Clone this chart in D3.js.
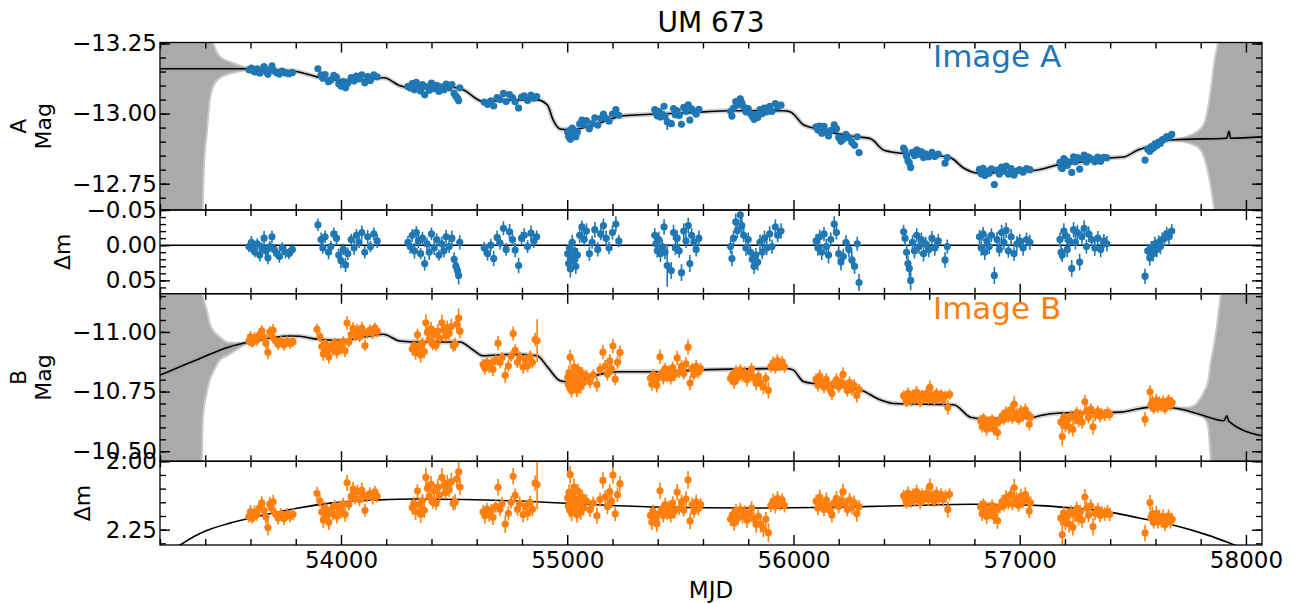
<!DOCTYPE html>
<html>
<head>
<meta charset="utf-8">
<script src="https://cdn.jsdelivr.net/npm/d3@7"></script>
<style>
  body { margin: 0; background: #fff; }
  svg { font-family: "DejaVu Sans", sans-serif; }
</style>
</head>
<body>
<svg id="chart" width="1294" height="604"></svg>
<script>
// ---- image A: epochs, magnitudes, residuals from the model, errors ----
var mjdA = [
  53593,53604,53612,53620,53630,53641,53650,53660,53668,53677,53686,53695,53705,53716,53728,53740,53755,53770,53785,
  53898,53912,53920,53930,53945,53955,53968,53980,53990,54000,54010,54020,54030,54045,54058,54068,54080,54092,54105,54118,54130,54145,54160,
  54296,54306,54315,54325,54333,54342,54352,54360,54370,54380,54390,54400,54412,54423,54433,54445,54455,54465,54478,54490,54500,54508,54515,54520,54525,
  54633,54648,54662,54675,54690,54703,54718,54730,54745,54758,54770,54785,54798,54810,54825,54840,54852,54865,
  55002,55006,55010,55014,55018,55022,55027,55032,55038,55045,55055,55065,55075,55085,55098,55110,55122,55135,55148,55160,55172,55185,55200,55215,55228,
  55387,55392,55398,55405,55412,55420,55428,55432,55442,55460,55470,55478,55486,55495,55505,55515,55525,55535,55542,55550,55560,55570,55582,
  55722,55728,55735,55745,55752,55765,55772,55780,55790,55800,55810,55818,55826,55834,55842,55852,55862,55872,55882,55895,55905,55920,55930,55945,
  56100,56108,56116,56125,56135,56145,56155,56165,56180,56190,56200,56210,56220,56232,56245,56258,56270,56282,56290,
  56487,56493,56500,56506,56512,56518,56526,56535,56545,56555,56565,56575,56585,56598,56612,56625,56640,56670,56680,
  56822,56830,56838,56846,56855,56865,56875,56888,56900,56910,56920,56930,56940,56950,56962,56975,56988,57000,57015,57030,57045,
  57178,57183,57188,57195,57202,57210,57220,57230,57238,57246,57255,57265,57275,57285,57295,57305,57318,57332,57345,57358,57372,57385,
  57554,57566,57575,57582,57590,57598,57606,57614,57622,57630,57640,57650,57660,57672
];
var magA = [
  -13.156,-13.162,-13.152,-13.148,-13.160,-13.144,-13.154,-13.168,-13.150,-13.140,-13.156,-13.170,-13.152,-13.146,-13.141,-13.152,-13.145,-13.142,-13.147,
  -13.160,-13.138,-13.126,-13.139,-13.114,-13.120,-13.136,-13.130,-13.106,-13.098,-13.114,-13.092,-13.108,-13.128,-13.116,-13.134,-13.124,-13.138,-13.110,-13.132,-13.118,-13.138,-13.131,
  -13.097,-13.091,-13.107,-13.085,-13.111,-13.099,-13.081,-13.103,-13.067,-13.095,-13.083,-13.109,-13.089,-13.101,-13.079,-13.095,-13.085,-13.105,-13.091,-13.103,-13.072,-13.062,-13.055,-13.046,-13.092,
  -13.041,-13.033,-13.045,-13.027,-13.057,-13.050,-13.072,-13.043,-13.068,-13.057,-13.042,-13.020,-13.059,-13.063,-13.047,-13.066,-13.055,-13.061,
  -12.933,-12.918,-12.939,-12.908,-12.925,-12.948,-12.923,-12.938,-12.917,-12.934,-12.963,-12.977,-12.961,-12.975,-12.946,-12.964,-12.985,-12.959,-12.983,-12.998,-12.983,-12.973,-12.998,-13.014,-12.994,
  -13.014,-13.002,-12.992,-13.008,-12.988,-12.998,-13.026,-12.990,-12.971,-12.964,-13.018,-12.996,-13.010,-12.993,-12.962,-13.022,-13.008,-13.031,-12.977,-13.017,-13.008,-12.998,-13.015,
  -13.008,-12.991,-13.020,-13.043,-13.031,-13.053,-13.038,-13.024,-13.006,-13.018,-13.000,-12.990,-12.980,-12.996,-12.986,-13.014,-13.000,-13.020,-13.006,-13.026,-13.008,-13.036,-13.024,-13.030,
  -12.953,-12.941,-12.955,-12.930,-12.954,-12.934,-12.920,-12.940,-12.960,-12.946,-12.915,-12.901,-12.908,-12.926,-12.914,-12.898,-12.887,-12.917,-12.861,
  -12.877,-12.868,-12.848,-12.832,-12.825,-12.808,-12.862,-12.850,-12.871,-12.855,-12.864,-12.843,-12.856,-12.846,-12.862,-12.847,-12.855,-12.823,-12.843,
  -12.801,-12.785,-12.805,-12.779,-12.795,-12.787,-12.803,-12.747,-12.798,-12.784,-12.809,-12.795,-12.813,-12.784,-12.804,-12.781,-12.795,-12.800,-12.791,-12.804,-12.800,
  -12.826,-12.808,-12.804,-12.839,-12.833,-12.815,-12.827,-12.790,-12.846,-12.828,-12.843,-12.802,-12.839,-12.852,-12.827,-12.845,-12.838,-12.828,-12.845,-12.830,-12.844,-12.842,
  -12.834,-12.873,-12.866,-12.882,-12.876,-12.892,-12.886,-12.898,-12.894,-12.906,-12.910,-12.918,-12.916,-12.926
];
var resA = [
  0.002,-0.004,0.006,0.010,-0.002,0.014,0.004,-0.010,0.008,0.018,0.002,-0.012,0.006,0.012,0.016,0.004,0.010,0.012,0.006,
  -0.029,-0.008,0.004,-0.012,0.010,0.002,-0.016,-0.010,0.014,0.022,0.006,0.028,0.012,-0.008,0.004,-0.014,-0.004,-0.018,0.010,-0.012,0.002,-0.016,-0.006,
  -0.004,0.002,-0.014,0.008,-0.018,-0.006,0.012,-0.010,0.026,-0.002,0.010,-0.016,0.004,-0.008,0.014,-0.002,0.008,-0.012,0.002,-0.010,0.020,0.030,0.036,0.043,-0.004,
  0.004,0.012,0.000,0.019,-0.011,-0.003,-0.024,0.006,-0.019,-0.008,0.007,0.029,-0.010,-0.014,0.002,-0.017,-0.006,-0.012,
  0.012,0.026,0.004,0.034,0.018,-0.004,0.022,0.008,0.030,0.014,-0.014,-0.026,-0.008,-0.020,0.012,-0.004,-0.022,0.006,-0.016,-0.028,-0.010,0.004,-0.018,-0.030,-0.006,
  -0.014,-0.002,0.008,-0.008,0.012,0.002,-0.026,0.010,0.029,0.036,-0.018,0.004,-0.010,0.008,0.039,-0.020,-0.006,-0.028,0.026,-0.014,-0.004,0.006,-0.010,
  0.002,0.019,-0.010,-0.033,-0.021,-0.043,-0.028,-0.014,0.004,-0.008,0.010,0.020,0.030,0.014,0.024,-0.004,0.010,-0.010,0.004,-0.016,0.002,-0.026,-0.014,-0.020,
  -0.006,0.004,-0.012,0.010,-0.016,0.002,0.014,-0.008,-0.030,-0.018,0.012,0.024,0.016,-0.004,0.006,0.021,0.030,-0.002,0.053,
  -0.019,-0.010,0.010,0.026,0.033,0.050,-0.004,0.008,-0.014,0.002,-0.008,0.012,-0.002,0.006,-0.010,0.004,-0.006,0.021,0.002,
  -0.012,0.004,-0.016,0.010,-0.006,0.002,-0.014,0.043,-0.008,0.006,-0.018,-0.004,-0.021,0.008,-0.012,0.012,-0.002,-0.006,0.004,-0.008,-0.004,
  -0.008,0.010,0.014,-0.020,-0.014,0.006,-0.006,0.033,-0.022,-0.004,-0.018,0.024,-0.012,-0.024,0.002,-0.016,-0.008,0.004,-0.010,0.006,-0.006,-0.002,
  0.044,0.008,0.018,0.004,0.012,-0.002,0.006,-0.004,0.002,-0.008,-0.010,-0.016,-0.012,-0.020
];
var errA = [
  0.008,0.009,0.008,0.007,0.008,0.009,0.008,0.010,0.008,0.009,0.008,0.009,0.008,0.007,0.009,0.008,0.009,0.008,0.008,
  0.009,0.010,0.008,0.009,0.010,0.008,0.009,0.010,0.009,0.011,0.008,0.010,0.009,0.008,0.010,0.009,0.008,0.010,0.009,0.010,0.008,0.009,0.010,
  0.009,0.010,0.009,0.011,0.009,0.010,0.008,0.009,0.010,0.009,0.011,0.009,0.010,0.009,0.008,0.010,0.009,0.010,0.009,0.011,0.010,0.011,0.012,0.013,0.010,
  0.009,0.010,0.009,0.011,0.010,0.009,0.010,0.009,0.011,0.009,0.010,0.011,0.009,0.010,0.009,0.011,0.010,0.009,
  0.010,0.011,0.009,0.012,0.010,0.011,0.010,0.012,0.011,0.010,0.011,0.009,0.010,0.011,0.010,0.009,0.011,0.010,0.009,0.010,0.011,0.009,0.010,0.011,0.009,
  0.010,0.011,0.010,0.011,0.012,0.010,0.011,0.010,0.030,0.012,0.011,0.010,0.011,0.010,0.012,0.011,0.010,0.011,0.012,0.010,0.011,0.010,0.011,
  0.010,0.011,0.010,0.012,0.011,0.012,0.011,0.010,0.011,0.010,0.011,0.012,0.011,0.010,0.012,0.011,0.010,0.011,0.010,0.011,0.010,0.011,0.010,0.011,
  0.010,0.011,0.010,0.011,0.010,0.011,0.012,0.010,0.011,0.010,0.011,0.012,0.011,0.010,0.011,0.012,0.011,0.010,0.012,
  0.010,0.011,0.010,0.011,0.012,0.014,0.010,0.011,0.010,0.011,0.010,0.011,0.010,0.011,0.010,0.011,0.010,0.011,0.010,
  0.010,0.011,0.010,0.011,0.010,0.011,0.010,0.012,0.011,0.010,0.011,0.010,0.011,0.010,0.011,0.010,0.011,0.010,0.011,0.010,0.011,
  0.010,0.011,0.010,0.011,0.010,0.011,0.010,0.012,0.011,0.010,0.011,0.012,0.010,0.011,0.010,0.011,0.010,0.011,0.010,0.011,0.010,0.011,
  0.011,0.010,0.011,0.010,0.011,0.010,0.011,0.010,0.011,0.010,0.011,0.010,0.011,0.010
];

// ---- image B: epochs, magnitudes, difference to the shifted A model, errors ----
var mjdB = [
  53593,53600,53608,53618,53628,53640,53650,53660,53668,53677,53685,53692,53700,53710,53722,53735,53748,53762,53775,53788,
  53894,53907,53915,53922,53930,53938,53946,53955,53964,53972,53982,53992,54000,54010,54018,54027,54035,54045,54053,54062,54072,54082,54092,54100,54106,54115,54128,54140,54150,54160,
  54315,54322,54330,54338,54345,54352,54360,54368,54375,54382,54390,54398,54405,54412,54420,54428,54436,54446,54455,54462,54470,54478,54488,54496,54505,54512,54520,54526,
  54628,54636,54645,54655,54664,54672,54684,54694,54703,54712,54726,54740,54752,54761,54770,54780,54790,54805,54815,54825,54836,54846,54858,54867,
  55002,55005,55008,55011,55013,55016,55019,55022,55026,55030,55034,55038,55043,55048,55054,55060,55066,55072,55085,55100,55115,55131,55145,55158,55168,55178,55188,55196,55202,55212,55222,55233,
  55368,55374,55380,55388,55396,55404,55410,55418,55425,55433,55442,55450,55458,55466,55475,55486,55495,55505,55515,55525,55534,55543,55552,55560,55570,55580,55590,
  55722,55730,55738,55746,55755,55765,55775,55785,55795,55805,55815,55825,55835,55845,55855,55867,55878,55889,55900,55910,55920,55929,55940,55950,55960,
  56100,56108,56116,56125,56135,56145,56155,56162,56170,56180,56190,56200,56210,56219,56228,56238,56248,56258,56268,56280,56290,
  56487,56494,56500,56506,56512,56520,56528,56536,56544,56552,56560,56568,56578,56588,56596,56603,56612,56622,56632,56642,56652,56662,56672,56682,56690,
  56827,56834,56840,56847,56854,56862,56870,56878,56886,56894,56902,56912,56922,56930,56940,56950,56960,56968,56976,56985,56995,57005,57015,57025,57035,57042,57048,
  57182,57188,57195,57202,57210,57218,57226,57235,57244,57252,57260,57268,57276,57288,57296,57304,57314,57324,57334,57345,57355,57363,57375,57388,57398,
  57554,57576,57580,57586,57592,57598,57604,57610,57618,57626,57634,57642,57650,57658,57666,57674
];
var magB = [
  -10.963,-10.979,-10.955,-10.976,-10.965,-10.989,-11.005,-10.977,-10.953,-10.914,-11.000,-10.986,-11.007,-10.963,-10.948,-10.962,-10.946,-10.961,-10.952,-10.959,
  -11.011,-10.980,-10.939,-10.908,-10.952,-10.922,-10.896,-10.941,-10.925,-10.955,-10.915,-10.945,-10.930,-10.960,-10.921,-11.037,-10.958,-10.989,-11.015,-10.982,-11.008,-10.980,-11.016,-10.997,-10.943,-10.995,-11.008,-10.995,-11.017,-11.003,
  -10.928,-10.943,-10.913,-10.988,-10.938,-10.903,-10.953,-10.918,-11.038,-10.998,-10.968,-11.013,-10.948,-10.988,-10.943,-11.003,-10.973,-11.038,-11.008,-10.983,-11.018,-10.993,-11.023,-10.943,-10.948,-11.033,-11.058,-11.003,
  -10.863,-10.848,-10.873,-10.853,-10.868,-10.843,-10.883,-10.953,-10.873,-10.893,-10.818,-10.858,-10.898,-10.993,-10.923,-10.873,-10.893,-10.853,-10.883,-10.858,-10.898,-10.873,-10.968,-10.963,
  -10.810,-10.780,-10.830,-10.765,-10.894,-10.800,-10.755,-10.821,-10.787,-10.853,-10.774,-10.810,-10.756,-10.842,-10.798,-10.770,-10.827,-10.788,-10.817,-10.791,-10.820,-10.780,-10.843,-10.915,-10.857,-10.823,-10.879,-10.845,-10.941,-10.802,-10.873,-10.914,
  -10.806,-10.781,-10.821,-10.796,-10.776,-10.811,-10.896,-10.826,-10.806,-10.846,-10.816,-10.836,-10.806,-10.851,-10.821,-10.891,-10.831,-10.856,-10.826,-10.866,-10.936,-10.786,-10.846,-10.821,-10.856,-10.831,-10.846,
  -10.805,-10.820,-10.790,-10.835,-10.810,-10.840,-10.815,-10.830,-10.800,-10.825,-10.845,-10.805,-10.785,-10.815,-10.785,-10.770,-10.805,-10.755,-10.855,-10.870,-10.850,-10.880,-10.860,-10.875,-10.855,
  -10.802,-10.776,-10.815,-10.789,-10.768,-10.801,-10.779,-10.758,-10.742,-10.786,-10.800,-10.769,-10.788,-10.822,-10.776,-10.755,-10.788,-10.757,-10.776,-10.734,-10.758,
  -10.733,-10.723,-10.706,-10.743,-10.728,-10.713,-10.738,-10.718,-10.748,-10.728,-10.708,-10.738,-10.723,-10.743,-10.718,-10.768,-10.733,-10.713,-10.743,-10.723,-10.738,-10.718,-10.733,-10.683,-10.738,
  -10.628,-10.603,-10.638,-10.613,-10.593,-10.623,-10.608,-10.633,-10.593,-10.618,-10.578,-10.628,-10.648,-10.633,-10.663,-10.643,-10.673,-10.638,-10.698,-10.658,-10.633,-10.668,-10.648,-10.673,-10.653,-10.613,-10.643,
  -10.622,-10.562,-10.642,-10.607,-10.632,-10.602,-10.647,-10.592,-10.637,-10.662,-10.627,-10.652,-10.622,-10.707,-10.667,-10.642,-10.677,-10.602,-10.652,-10.667,-10.647,-10.657,-10.652,-10.662,-10.654,
  -10.634,-10.749,-10.694,-10.709,-10.679,-10.699,-10.714,-10.684,-10.704,-10.689,-10.709,-10.679,-10.699,-10.714,-10.694,-10.704
];
var dmB = [
  2.202,2.185,2.208,2.186,2.195,2.170,2.152,2.180,2.204,2.242,2.156,2.170,2.148,2.192,2.207,2.193,2.209,2.193,2.201,2.194,
  2.117,2.146,2.186,2.215,2.170,2.199,2.223,2.178,2.192,2.162,2.201,2.171,2.185,2.155,2.194,2.079,2.158,2.128,2.102,2.137,2.111,2.141,2.105,2.125,2.179,2.129,2.118,2.133,2.112,2.127,
  2.169,2.154,2.184,2.109,2.159,2.194,2.144,2.179,2.059,2.099,2.129,2.084,2.149,2.109,2.154,2.094,2.124,2.059,2.089,2.114,2.079,2.104,2.074,2.154,2.149,2.064,2.039,2.094,
  2.185,2.200,2.175,2.195,2.180,2.205,2.165,2.095,2.175,2.155,2.230,2.190,2.150,2.055,2.125,2.175,2.155,2.195,2.165,2.190,2.150,2.175,2.080,2.085,
  2.134,2.164,2.114,2.179,2.049,2.144,2.189,2.124,2.159,2.094,2.174,2.139,2.195,2.110,2.155,2.185,2.130,2.171,2.146,2.177,2.153,2.199,2.140,2.070,2.131,2.166,2.111,2.146,2.051,2.192,2.122,2.082,
  2.198,2.223,2.183,2.208,2.228,2.193,2.108,2.178,2.198,2.158,2.188,2.168,2.198,2.153,2.183,2.113,2.173,2.148,2.178,2.138,2.068,2.218,2.158,2.183,2.148,2.173,2.158,
  2.211,2.196,2.226,2.181,2.206,2.176,2.201,2.186,2.216,2.191,2.171,2.211,2.231,2.201,2.231,2.246,2.211,2.261,2.161,2.146,2.166,2.136,2.156,2.141,2.161,
  2.146,2.171,2.131,2.156,2.176,2.141,2.161,2.181,2.196,2.151,2.136,2.166,2.146,2.111,2.156,2.176,2.141,2.171,2.151,2.191,2.166,
  2.126,2.136,2.153,2.116,2.131,2.146,2.121,2.141,2.111,2.131,2.151,2.121,2.136,2.116,2.141,2.091,2.126,2.146,2.116,2.136,2.121,2.141,2.126,2.176,2.121,
  2.167,2.192,2.157,2.182,2.202,2.172,2.187,2.162,2.202,2.177,2.217,2.167,2.147,2.162,2.132,2.152,2.122,2.157,2.097,2.137,2.162,2.127,2.147,2.122,2.142,2.182,2.152,
  2.208,2.268,2.189,2.224,2.199,2.230,2.185,2.241,2.197,2.172,2.208,2.184,2.215,2.131,2.172,2.197,2.163,2.239,2.190,2.176,2.197,2.187,2.193,2.184,2.194,
  2.262,2.151,2.206,2.192,2.223,2.204,2.190,2.222,2.203,2.219,2.201,2.232,2.213,2.200,2.221,2.212
];
var errB = [
  0.022,0.025,0.020,0.024,0.022,0.026,0.024,0.021,0.023,0.028,0.025,0.022,0.026,0.021,0.024,0.022,0.025,0.021,0.023,0.022,
  0.024,0.022,0.026,0.030,0.023,0.025,0.028,0.022,0.024,0.021,0.026,0.023,0.025,0.022,0.027,0.030,0.022,0.024,0.026,0.021,0.025,0.023,0.027,0.022,0.024,0.021,0.023,0.025,0.022,0.024,
  0.026,0.024,0.030,0.025,0.027,0.032,0.024,0.028,0.035,0.026,0.024,0.030,0.025,0.028,0.024,0.030,0.026,0.034,0.028,0.025,0.030,0.027,0.032,0.026,0.028,0.036,0.040,0.030,
  0.024,0.027,0.023,0.026,0.024,0.028,0.023,0.030,0.025,0.024,0.032,0.026,0.023,0.030,0.025,0.024,0.026,0.028,0.023,0.027,0.024,0.026,0.028,0.090,
  0.028,0.025,0.030,0.026,0.032,0.027,0.030,0.025,0.028,0.032,0.026,0.028,0.030,0.027,0.025,0.029,0.026,0.028,0.025,0.027,0.024,0.030,0.026,0.030,0.025,0.027,0.028,0.025,0.030,0.026,0.027,0.028,
  0.026,0.028,0.024,0.027,0.030,0.025,0.030,0.024,0.026,0.025,0.027,0.024,0.026,0.025,0.027,0.030,0.024,0.026,0.025,0.028,0.032,0.030,0.025,0.024,0.026,0.025,0.024,
  0.026,0.024,0.028,0.025,0.027,0.024,0.026,0.025,0.028,0.024,0.026,0.027,0.030,0.025,0.030,0.032,0.026,0.034,0.025,0.027,0.024,0.026,0.025,0.024,0.026,
  0.024,0.026,0.028,0.024,0.025,0.027,0.024,0.026,0.028,0.025,0.027,0.024,0.026,0.030,0.024,0.026,0.025,0.024,0.026,0.030,0.024,
  0.022,0.024,0.021,0.025,0.022,0.024,0.021,0.023,0.025,0.022,0.024,0.021,0.023,0.025,0.022,0.028,0.024,0.021,0.023,0.025,0.022,0.024,0.021,0.030,0.022,
  0.024,0.026,0.022,0.025,0.028,0.023,0.025,0.022,0.027,0.024,0.030,0.023,0.025,0.022,0.026,0.024,0.027,0.023,0.032,0.025,0.022,0.026,0.024,0.027,0.023,0.026,0.024,
  0.026,0.040,0.024,0.028,0.025,0.030,0.024,0.030,0.026,0.024,0.027,0.025,0.028,0.030,0.025,0.026,0.024,0.032,0.025,0.024,0.026,0.023,0.025,0.024,0.025,
  0.030,0.028,0.024,0.026,0.023,0.025,0.027,0.024,0.026,0.023,0.025,0.024,0.026,0.024,0.025,0.024
];

// ---- model curves: [MJD, value] ----
var modelA = [
  [53200,-13.160],[53597,-13.160],[53788,-13.152],[53894,-13.131],[53965,-13.120],[54084,-13.119],[54190,-13.128],
  [54261,-13.099],[54305,-13.092],[54482,-13.095],[54540,-13.085],[54628,-13.043],[54779,-13.049],[54867,-13.049],
  [54912,-13.031],[54938,-12.977],[54969,-12.945],[55013,-12.942],[55146,-12.967],[55248,-12.992],[55513,-13.002],
  [55735,-13.010],[55956,-13.010],[55987,-13.006],[56044,-12.960],[56106,-12.945],[56252,-12.920],[56341,-12.910],
  [56398,-12.870],[56460,-12.860],[56606,-12.852],[56695,-12.842],[56752,-12.806],[56814,-12.788],[56960,-12.792],
  [57080,-12.799],[57168,-12.817],[57283,-12.828],[57403,-12.842],[57460,-12.845],[57522,-12.870],[57580,-12.885],
  [57668,-12.906],[57726,-12.908],[57915,-12.912],[57925,-12.937],[57932,-12.912],[58071,-12.917]
];
var modelB = [
  [53200,-10.819],[53377,-10.889],[53509,-10.938],[53598,-10.958],[53775,-10.983],[53819,-10.982],[53876,-10.972],
  [53965,-10.965],[54009,-10.965],[54128,-10.983],[54186,-10.990],[54261,-10.962],[54336,-10.958],[54526,-10.958],
  [54584,-10.924],[54628,-10.900],[54761,-10.906],[54867,-10.900],[54912,-10.854],[54969,-10.795],[55013,-10.789],
  [55133,-10.820],[55221,-10.833],[55398,-10.833],[55575,-10.840],[55796,-10.845],[55973,-10.847],[56000,-10.840],
  [56044,-10.792],[56106,-10.781],[56296,-10.757],[56385,-10.715],[56443,-10.700],[56708,-10.695],[56783,-10.642],
  [56827,-10.636],[57049,-10.639],[57093,-10.650],[57181,-10.660],[57447,-10.664],[57504,-10.674],[57580,-10.685],
  [57681,-10.681],[57801,-10.653],[57902,-10.628],[57916,-10.648],[57924,-10.626],[58071,-10.565]
];
var trendB = [
  [53200,2.345],[53288,2.306],[53350,2.275],[53407,2.253],[53509,2.226],[53597,2.208],[53655,2.197],[53805,2.172],[53951,2.153],
  [54172,2.141],[54318,2.138],[54539,2.140],[54835,2.147],[55131,2.159],[55423,2.168],[55795,2.171],[56351,2.165],
  [56793,2.157],[57090,2.162],[57236,2.171],[57386,2.184],[57532,2.208],[57677,2.233],[57828,2.269],[57943,2.304],[58071,2.345]
];

// ---- uncertainty envelopes outside the data: [MJD, faint edge, bright edge] ----
var bandAleft = [
  [53200,-12.0,-14.5],[53354,-12.0,-14.5],[53389,-12.667,-13.50],[53394,-12.81,-13.46],[53407,-12.931,-13.38],
  [53420,-13.049,-13.30],[53434,-13.095,-13.256],[53465,-13.128,-13.203],[53522,-13.145,-13.181],
  [53588,-13.156,-13.163],[53642,-13.159,-13.161]
];
var bandAright = [
  [57668,-12.906,-12.906],[57726,-12.899,-12.913],[57757,-12.892,-12.924],[57788,-12.881,-12.938],
  [57815,-12.845,-12.963],[57845,-12.738,-13.085],[57859,-12.663,-13.174],[57876,-12.55,-13.252],
  [57912,-12.4,-13.4],[58071,-12.0,-14.0]
];
var bandBleft = [
  [53200,-10.0,-12.0],[53354,-10.0,-12.0],[53385,-10.465,-11.25],[53389,-10.632,-11.16],[53407,-10.749,-11.09],
  [53420,-10.799,-11.035],[53434,-10.83,-11.007],[53465,-10.882,-10.978],[53496,-10.90,-10.957],
  [53522,-10.915,-10.955],[53588,-10.953,-10.953],[53642,-10.962,-10.962]
];
var bandBright = [
  [57681,-10.681,-10.681],[57726,-10.672,-10.682],[57770,-10.665,-10.690],[57788,-10.657,-10.707],
  [57815,-10.640,-10.749],[57832,-10.611,-10.790],[57837,-10.569,-10.820],[57845,-10.457,-10.874],
  [57859,-10.30,-10.945],[57889,-10.20,-11.161],[57920,-10.1,-11.5],[58071,-10.0,-12.0]
];

var xMajor = [54000, 55000, 56000, 57000, 58000];

var svg = d3.select("#chart");
var plotLeft = 160, plotRight = 1262, plotTop = 42.5, unit = 83.75;
var blue = "#1f77b4", orange = "#ff7f0e";

var x = d3.scaleLinear().domain([53200, 58071]).range([plotLeft, plotRight]);
var xMinor = d3.range(53200, 58072, 200).filter(function (v) { return v % 1000 !== 0; });

function hundredths(a, b, s) { return d3.range(a, b, s).map(function (v) { return v / 100; }); }

var panels = [
  { id: "magA", y0: plotTop, h: 2 * unit, dom: [-13.2536, -12.656], major: [-13.25, -13.0, -12.75],
    minor: hundredths(-1325, -1266, 5), label: ["A", "Mag"], labelX: [26, 51] },
  { id: "resA", y0: plotTop + 2 * unit, h: unit, dom: [-0.05, 0.069], major: [-0.05, 0, 0.05],
    minor: hundredths(-5, 7, 1), label: ["Δm"], labelX: [70] },
  { id: "magB", y0: plotTop + 3 * unit, h: 2 * unit, dom: [-11.16, -10.458], major: [-11, -10.75, -10.5],
    minor: hundredths(-1115, -1045, 5), label: ["B", "Mag"], labelX: [26, 51] },
  { id: "dmB", y0: plotTop + 5 * unit, h: unit, dom: [2.0, 2.306], major: [2.0, 2.25],
    minor: hundredths(200, 231, 5), label: ["Δm"], labelX: [90] }
];

function drawBand(plot, y, knots) {
  var area = d3.area()
    .x(function (d) { return x(d[0]); })
    .y0(function (d) { return y(d[1]); })
    .y1(function (d) { return y(d[2]); })
    .curve(d3.curveMonotoneX);
  plot.append("path").attr("d", area(knots))
    .attr("fill", "#aaaaaa").attr("stroke", "#c8c8c8").attr("stroke-width", 2);
}

function drawCurve(plot, y, knots, halo) {
  var line = d3.line()
    .x(function (d) { return x(d[0]); })
    .y(function (d) { return y(d[1]); })
    .curve(d3.curveMonotoneX);
  if (halo) {
    plot.append("path").attr("d", line(knots)).attr("fill", "none")
      .attr("stroke", "#9a9a9a").attr("stroke-opacity", 0.45).attr("stroke-width", 5);
  }
  plot.append("path").attr("d", line(knots)).attr("fill", "none")
    .attr("stroke", "#000").attr("stroke-width", 1.6);
}

function drawPoints(plot, y, ts, vs, es, color) {
  var n = Math.min(ts.length, vs.length);
  var pts = d3.range(n).map(function (i) { return { t: ts[i], v: vs[i], e: es[i] || 0.01 }; });
  plot.append("g").selectAll("line").data(pts).join("line")
    .attr("x1", function (d) { return x(d.t); })
    .attr("x2", function (d) { return x(d.t); })
    .attr("y1", function (d) { return y(d.v - d.e); })
    .attr("y2", function (d) { return y(d.v + d.e); })
    .attr("stroke", color).attr("stroke-width", 1.6);
  plot.append("g").selectAll("circle").data(pts).join("circle")
    .attr("cx", function (d) { return x(d.t); })
    .attr("cy", function (d) { return y(d.v); })
    .attr("r", 3.6).attr("fill", color);
}

function styleAxis(g) {
  g.select(".domain").remove();
  g.attr("font-family", null).attr("font-size", null);
  g.selectAll(".tick line").attr("stroke", "#000").attr("stroke-width", 1.4);
  g.selectAll("text").attr("font-size", 23).attr("fill", "#000");
}

function drawAxes(p, y, withXLabels) {
  var fmt = d3.format(".2f");
  svg.append("g").attr("transform", "translate(" + plotLeft + ",0)")
    .call(d3.axisLeft(y).tickValues(p.major).tickSize(-10).tickPadding(3).tickFormat(fmt)).call(styleAxis);
  svg.append("g").attr("transform", "translate(" + plotLeft + ",0)")
    .call(d3.axisLeft(y).tickValues(p.minor).tickSize(-6).tickFormat("")).call(styleAxis);
  svg.append("g").attr("transform", "translate(" + plotRight + ",0)")
    .call(d3.axisRight(y).tickValues(p.major).tickSize(-10).tickFormat("")).call(styleAxis);
  svg.append("g").attr("transform", "translate(" + plotRight + ",0)")
    .call(d3.axisRight(y).tickValues(p.minor).tickSize(-6).tickFormat("")).call(styleAxis);

  svg.append("g").attr("transform", "translate(0," + p.y0 + ")")
    .call(d3.axisTop(x).tickValues(xMajor).tickSize(-10).tickFormat("")).call(styleAxis);
  svg.append("g").attr("transform", "translate(0," + p.y0 + ")")
    .call(d3.axisTop(x).tickValues(xMinor).tickSize(-6).tickFormat("")).call(styleAxis);
  svg.append("g").attr("transform", "translate(0," + (p.y0 + p.h) + ")")
    .call(d3.axisBottom(x).tickValues(xMajor).tickSize(-10).tickPadding(7)
      .tickFormat(withXLabels ? d3.format("d") : "")).call(styleAxis);
  svg.append("g").attr("transform", "translate(0," + (p.y0 + p.h) + ")")
    .call(d3.axisBottom(x).tickValues(xMinor).tickSize(-6).tickFormat("")).call(styleAxis);

  svg.append("rect").attr("x", plotLeft).attr("y", p.y0).attr("width", plotRight - plotLeft).attr("height", p.h)
    .attr("fill", "none").attr("stroke", "#000").attr("stroke-width", 1.3);

  p.label.forEach(function (s, k) {
    svg.append("text")
      .attr("transform", "translate(" + p.labelX[k] + "," + (p.y0 + p.h / 2) + ") rotate(-90)")
      .attr("text-anchor", "middle").attr("font-size", 22).text(s);
  });
}

panels.forEach(function (p, i) {
  var y = d3.scaleLinear().domain(p.dom).range([p.y0, p.y0 + p.h]);
  svg.append("clipPath").attr("id", "clip-" + p.id).append("rect")
    .attr("x", plotLeft).attr("y", p.y0).attr("width", plotRight - plotLeft).attr("height", p.h);
  var plot = svg.append("g").attr("clip-path", "url(#clip-" + p.id + ")");

  if (p.id === "magA") {
    drawBand(plot, y, bandAleft);
    drawBand(plot, y, bandAright);
    drawCurve(plot, y, modelA, true);
    drawPoints(plot, y, mjdA, magA, errA, blue);
  } else if (p.id === "resA") {
    plot.append("line").attr("x1", plotLeft).attr("x2", plotRight).attr("y1", y(0)).attr("y2", y(0))
      .attr("stroke", "#000").attr("stroke-width", 1.4);
    drawPoints(plot, y, mjdA, resA, errA, blue);
  } else if (p.id === "magB") {
    drawBand(plot, y, bandBleft);
    drawBand(plot, y, bandBright);
    drawCurve(plot, y, modelB, true);
    drawPoints(plot, y, mjdB, magB, errB, orange);
  } else {
    drawCurve(plot, y, trendB, false);
    drawPoints(plot, y, mjdB, dmB, errB, orange);
  }
  drawAxes(p, y, i === panels.length - 1);
});

svg.append("text").attr("x", (plotLeft + plotRight) / 2).attr("y", 32).attr("text-anchor", "middle")
  .attr("font-size", 28).text("UM 673");
svg.append("text").attr("x", (plotLeft + plotRight) / 2).attr("y", 598).attr("text-anchor", "middle")
  .attr("font-size", 23).text("MJD");
svg.append("text").attr("x", 933).attr("y", 67).attr("font-size", 31).attr("fill", blue).text("Image A");
svg.append("text").attr("x", 933).attr("y", 319).attr("font-size", 31).attr("fill", orange).text("Image B");
</script>
</body>
</html>
